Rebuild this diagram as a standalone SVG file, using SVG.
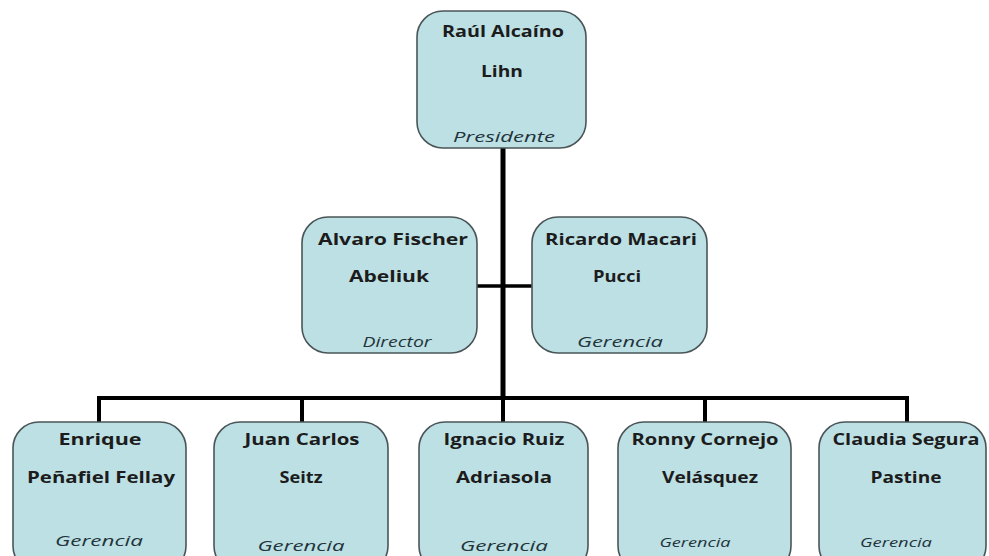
<svg xmlns="http://www.w3.org/2000/svg" width="989" height="556" viewBox="0 0 989 556">
<style>
.box{fill:#bde0e4;stroke:#4a5557;stroke-width:1.6}
.n{font-family:"Open Sans","DejaVu Sans",sans-serif;font-weight:bold;font-size:16px;fill:#1c1c1c;text-anchor:middle}
.r{font-family:"Open Sans","DejaVu Sans",sans-serif;font-style:italic;font-size:15px;fill:#22343a;text-anchor:middle}
.rs{font-size:12.5px}
.c{stroke:#000;fill:none}
</style>
<rect width="989" height="556" fill="#fff"/>
<g id="connectors">
<line class="c" x1="503" y1="148" x2="503" y2="399" stroke-width="5"/>
<line class="c" x1="477" y1="286" x2="532" y2="286" stroke-width="3.5"/>
<polyline class="c" points="99,422 99,398 907,398 907,422" stroke-width="4"/>
<line class="c" x1="302" y1="398" x2="302" y2="422" stroke-width="4"/>
<line class="c" x1="503" y1="398" x2="503" y2="422" stroke-width="4"/>
<line class="c" x1="705" y1="398" x2="705" y2="422" stroke-width="4"/>
</g>
<g id="raul">
<rect class="box" x="417" y="11" width="169" height="137" rx="26"/>
<text class="n" x="503" y="37" textLength="122" lengthAdjust="spacingAndGlyphs">Raúl Alcaíno</text>
<text class="n" x="502" y="77" textLength="42" lengthAdjust="spacingAndGlyphs">Lihn</text>
<text class="r" x="504" y="142" textLength="102" lengthAdjust="spacingAndGlyphs">Presidente</text>
</g>
<g id="alvaro">
<rect class="box" x="302" y="217" width="175" height="136" rx="26"/>
<text class="n" x="393" y="245" textLength="150" lengthAdjust="spacingAndGlyphs">Alvaro Fischer</text>
<text class="n" x="389" y="282" textLength="80" lengthAdjust="spacingAndGlyphs">Abeliuk</text>
<text class="r" x="397" y="347" textLength="69" lengthAdjust="spacingAndGlyphs">Director</text>
</g>
<g id="ricardo">
<rect class="box" x="532" y="217" width="175" height="136" rx="26"/>
<text class="n" x="621" y="245" textLength="152" lengthAdjust="spacingAndGlyphs">Ricardo Macari</text>
<text class="n" x="617" y="282" textLength="48" lengthAdjust="spacingAndGlyphs">Pucci</text>
<text class="r" x="620" y="347" textLength="86" lengthAdjust="spacingAndGlyphs">Gerencia</text>
</g>
<g id="enrique">
<rect class="box" x="13" y="422" width="173" height="150" rx="26"/>
<text class="n" x="100" y="445" textLength="83" lengthAdjust="spacingAndGlyphs">Enrique</text>
<text class="n" x="101" y="483" textLength="148" lengthAdjust="spacingAndGlyphs">Peñafiel Fellay</text>
<text class="r" x="99" y="546" textLength="88" lengthAdjust="spacingAndGlyphs">Gerencia</text>
</g>
<g id="juan">
<rect class="box" x="214" y="422" width="174" height="150" rx="26"/>
<text class="n" x="302" y="445" textLength="115" lengthAdjust="spacingAndGlyphs">Juan Carlos</text>
<text class="n" x="301" y="483" textLength="43" lengthAdjust="spacingAndGlyphs">Seitz</text>
<text class="r" x="301" y="551" textLength="87" lengthAdjust="spacingAndGlyphs">Gerencia</text>
</g>
<g id="ignacio">
<rect class="box" x="419" y="422" width="169" height="150" rx="26"/>
<text class="n" x="504" y="445" textLength="121" lengthAdjust="spacingAndGlyphs">Ignacio Ruiz</text>
<text class="n" x="504" y="483" textLength="96" lengthAdjust="spacingAndGlyphs">Adriasola</text>
<text class="r" x="504" y="551" textLength="88" lengthAdjust="spacingAndGlyphs">Gerencia</text>
</g>
<g id="ronny">
<rect class="box" x="618" y="422" width="173" height="150" rx="26"/>
<text class="n" x="705" y="445" textLength="147" lengthAdjust="spacingAndGlyphs">Ronny Cornejo</text>
<text class="n" x="710" y="483" textLength="96" lengthAdjust="spacingAndGlyphs">Velásquez</text>
<text class="r rs" x="695" y="547" textLength="71" lengthAdjust="spacingAndGlyphs">Gerencia</text>
</g>
<g id="claudia">
<rect class="box" x="819" y="422" width="167" height="150" rx="26"/>
<text class="n" x="906" y="445" textLength="147" lengthAdjust="spacingAndGlyphs">Claudia Segura</text>
<text class="n" x="906" y="483" textLength="71" lengthAdjust="spacingAndGlyphs">Pastine</text>
<text class="r rs" x="896" y="547" textLength="72" lengthAdjust="spacingAndGlyphs">Gerencia</text>
</g>
</svg>
